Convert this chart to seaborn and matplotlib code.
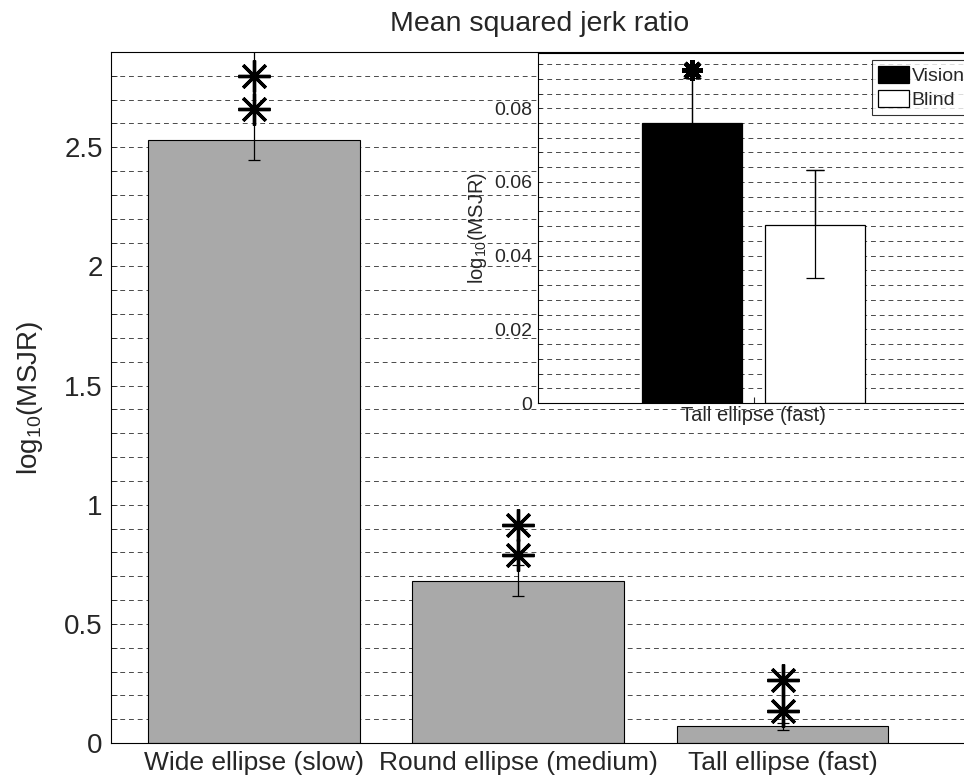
import matplotlib
matplotlib.use("Agg")
import matplotlib.pyplot as plt
from matplotlib.ticker import MultipleLocator, FixedLocator
import seaborn as sns
import pandas as pd
import numpy as np

# ---- data ----
categories = ["Wide ellipse (slow)", "Round ellipse (medium)", "Tall ellipse (fast)"]
means = [2.53, 0.68, 0.07]
err_low = [2.445, 0.617, 0.055]
err_high = [2.95, 0.745, 0.085]
star_upper = [2.80, 0.915, 0.264]
star_lower = [2.66, 0.79, 0.134]

inset_category = ["Tall ellipse (fast)", "Tall ellipse (fast)"]
inset_groups = ["Vision", "Blind"]
inset_means = [0.0759, 0.0483]
inset_err_low = [0.0637, 0.0338]
inset_err_high = [0.0881, 0.0632]
inset_star = [0.0905]

main_yticks = [0, 0.5, 1, 1.5, 2, 2.5]
inset_yticks = [0, 0.02, 0.04, 0.06, 0.08]

sns.set_theme(style="white")
plt.rcParams['font.family'] = ['Liberation Sans', 'DejaVu Sans']
plt.rcParams['mathtext.default'] = 'regular'

W, H = 964, 784
fig = plt.figure(figsize=(W / 100, H / 100), dpi=100)
fig.patch.set_facecolor("white")

def fr(l, t, r, b):
    return [l / W, 1 - b / H, (r - l) / W, (b - t) / H]

grid_kw = dict(color="#4a4a4a", linestyle=(0, (5, 4)), linewidth=0.7)

# ---- main axes ----
ax = fig.add_axes(fr(111, 52, 969, 743))
ax.set_facecolor("white")
df = pd.DataFrame({"cat": categories, "val": means})
sns.barplot(data=df, x="cat", y="val", color="#a9a9a9", saturation=1,
            edgecolor="black", linewidth=0.8, width=0.8, errorbar=None, ax=ax, zorder=2)
xs = np.arange(len(categories))
m = np.array(means)
ax.errorbar(xs, m, yerr=[m - np.array(err_low), np.array(err_high) - m],
            fmt="none", ecolor="black", elinewidth=0.9, capsize=4, capthick=0.9, zorder=3)
for ys in (star_upper, star_lower):
    ax.plot(xs, ys, linestyle="none", marker=(8, 2, 0), markersize=23,
            markeredgewidth=2.4, color="black", zorder=4)
ax.set_ylim(0, 2.9)
ax.set_xlim(-0.54, 2.705)
ax.yaxis.set_major_locator(FixedLocator(main_yticks))
ax.set_yticklabels(["0", "0.5", "1", "1.5", "2", "2.5"])
ax.yaxis.set_minor_locator(MultipleLocator(0.1))
ax.grid(axis="y", which="both", **grid_kw)
ax.set_axisbelow(True)
ax.tick_params(axis="y", which="both", direction="in", length=4, width=0.6, labelsize=20, pad=6, left=True)
ax.tick_params(axis="x", direction="in", length=0, labelsize=19, pad=6)
ax.set_xlabel("")
ax.set_ylabel("log$_{10}$(MSJR)", fontsize=20, labelpad=14)
for s in ax.spines.values():
    s.set_color("black")
    s.set_linewidth(0.8)
fig.text(540 / W, 1 - 24 / H, "Mean squared jerk ratio", fontsize=20.5, ha="center", va="center")

# ---- inset axes ----
axin = fig.add_axes(fr(538, 53, 969, 403))
axin.set_facecolor("white")
dfi = pd.DataFrame({"cat": inset_category, "group": inset_groups, "val": inset_means})
sns.barplot(data=dfi, x="cat", y="val", hue="group", hue_order=inset_groups,
            palette={"Vision": "black", "Blind": "white"}, saturation=1,
            edgecolor="black", linewidth=0.9, width=0.8, gap=0.19,
            errorbar=None, ax=axin, zorder=2)
bars = [p for p in axin.patches if p.get_height() > 0][:2]
bx = [p.get_x() + p.get_width() / 2 for p in bars]
im = np.array(inset_means)
axin.errorbar(bx, im, yerr=[im - np.array(inset_err_low), np.array(inset_err_high) - im],
              fmt="none", ecolor="black", elinewidth=0.9, capsize=6.5, capthick=0.9, zorder=1.5)
axin.errorbar(bx[1:], im[1:], yerr=[im[1:] - np.array(inset_err_low[1:]), np.array(inset_err_high[1:]) - im[1:]],
              fmt="none", ecolor="black", elinewidth=0.9, capsize=6.5, capthick=0.9, zorder=3)
axin.errorbar(bx[:1], im[:1], yerr=[[0], [inset_err_high[0] - inset_means[0]]],
              fmt="none", ecolor="black", elinewidth=0.9, capsize=0, zorder=3)
axin.plot(bx[:1], inset_star, linestyle="none", marker=(8, 2, 0), markersize=15,
          markeredgewidth=3.2, color="black", zorder=4)
axin.set_ylim(0, 0.095)
axin.set_xlim(-0.70, 0.70)
axin.yaxis.set_major_locator(FixedLocator(inset_yticks))
axin.set_yticklabels(["0", "0.02", "0.04", "0.06", "0.08"])
axin.yaxis.set_minor_locator(MultipleLocator(0.004))
axin.grid(axis="y", which="both", **grid_kw)
axin.set_axisbelow(True)
axin.tick_params(axis="y", which="both", direction="in", length=3, width=0.6, labelsize=14, pad=4, left=True)
axin.tick_params(axis="x", direction="in", length=4, width=0.8, labelsize=14.5, pad=2, bottom=True)
axin.set_xlabel("")
axin.set_ylabel("log$_{10}$(MSJR)", fontsize=14.5, labelpad=4)
for s in axin.spines.values():
    s.set_color("black")
    s.set_linewidth(0.8)
leg = axin.legend(loc="upper left", bbox_to_anchor=((872 - 538) / 431, (403 - 60) / 350),
                  fontsize=14, frameon=True, fancybox=False, edgecolor="black",
                  handlelength=1.6, handleheight=1.0, handletextpad=0.15,
                  borderpad=0.3, labelspacing=0.25, borderaxespad=0)
leg.get_frame().set_linewidth(0.8)
leg.set_zorder(10)

fig.savefig("out.png", dpi=100, facecolor="white")
